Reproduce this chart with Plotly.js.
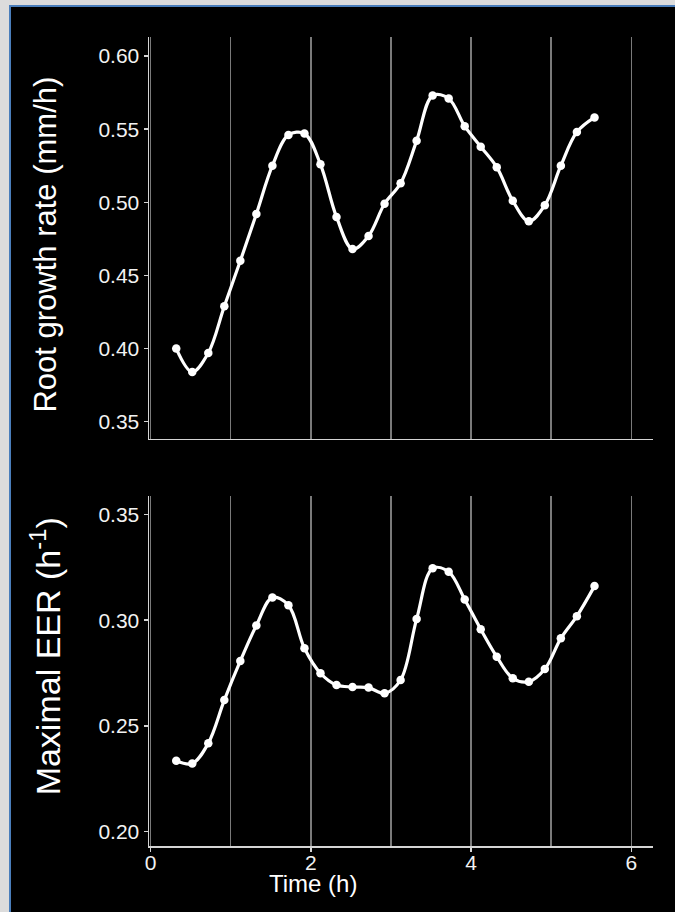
<!DOCTYPE html>
<html>
<head>
<meta charset="utf-8">
<script src="https://cdn.plot.ly/plotly-3.0.1.min.js"></script>
<style>
  html, body { margin:0; padding:0; background:#000; width:675px; height:912px; overflow:hidden; }
  #chart { position:absolute; left:0; top:0; width:675px; height:912px; }
  .frame { position:absolute; z-index:10; }
</style>
</head>
<body>
<div id="chart"></div>
<div class="frame" style="left:0;top:0;width:9px;height:912px;background:#dcdcdc;"></div>
<div class="frame" style="left:0;top:0;width:675px;height:5px;background:#dcdcdc;"></div>
<div class="frame" style="left:9px;top:5px;width:2px;height:907px;background:#4a7ebb;"></div>
<div class="frame" style="left:9px;top:5px;width:666px;height:2px;background:#4a7ebb;"></div>
<script>
// Time (h)
const timeH = [0.32, 0.52, 0.72, 0.92, 1.12, 1.32, 1.52, 1.72, 1.92, 2.12,
               2.32, 2.52, 2.72, 2.92, 3.12, 3.32, 3.52, 3.72, 3.92, 4.12,
               4.32, 4.52, 4.72, 4.92, 5.12, 5.32, 5.54];
// Root growth rate (mm/h)
const rootGrowthRate = [0.400, 0.384, 0.397, 0.429, 0.460, 0.492, 0.525, 0.546, 0.547, 0.526,
                        0.490, 0.468, 0.477, 0.499, 0.513, 0.542, 0.573, 0.571, 0.552, 0.538,
                        0.524, 0.501, 0.487, 0.498, 0.525, 0.548, 0.558];
// Maximal EER (h^-1)
const maximalEER = [0.2335, 0.2322, 0.2418, 0.2622, 0.2807, 0.2975, 0.3107, 0.3071, 0.2867, 0.2749,
                    0.2693, 0.2684, 0.2681, 0.2654, 0.2717, 0.3005, 0.3245, 0.3229, 0.3098, 0.2957,
                    0.2827, 0.2725, 0.2709, 0.2769, 0.2914, 0.3019, 0.3161];
const topYTicks = [0.35, 0.40, 0.45, 0.50, 0.55, 0.60];
const botYTicks = [0.20, 0.25, 0.30, 0.35];
const xTicks = [0, 2, 4, 6];

const FONT = 'Liberation Sans, Arial, Helvetica, sans-serif';
const AXIS = '#d4d4d4';
const GRID = '#7a7a7a';

const lineStyle = {color:'#ffffff', width:3.2, shape:'spline', smoothing:1};
const markerStyle = {color:'#ffffff', size:8.5};

const traces = [
  {x: timeH, y: rootGrowthRate, xaxis:'x', yaxis:'y', mode:'lines+markers',
   line: lineStyle, marker: markerStyle, hoverinfo:'skip'},
  {x: timeH, y: maximalEER, xaxis:'x2', yaxis:'y2', mode:'lines+markers',
   line: lineStyle, marker: markerStyle, hoverinfo:'skip'}
];

const xr = [-0.02, 6.27];
const layout = {
  width:675, height:912,
  paper_bgcolor:'#000', plot_bgcolor:'#000',
  showlegend:false,
  margin:{l:149, r:22, t:37, b:66},
  font:{family:FONT, color:'#f2f2f2', size:21},
  xaxis:{anchor:'y', domain:[0,1], range:xr, dtick:1, tick0:0,
         showticklabels:false, ticks:'', showgrid:true, gridcolor:GRID, gridwidth:1.5,
         zeroline:false, showline:true, linecolor:AXIS, linewidth:1.5},
  yaxis:{anchor:'x', domain:[0.5031, 1], range:[0.3382, 0.6130],
         tickvals: topYTicks, tickformat:'.2f', ticks:'outside', ticklen:4, tickwidth:1.5, tickcolor:AXIS,
         showgrid:false, zeroline:false, showline:true, linecolor:AXIS, linewidth:1.5,
         tickfont:{family:FONT, size:21, color:'#f2f2f2'}},
  xaxis2:{anchor:'y2', domain:[0,1], range:xr, tickvals:xTicks, ticktext:xTicks.map(String),
          ticks:'outside', ticklen:4, tickwidth:1.5, tickcolor:AXIS, ticklabelstandoff:-7,
          showgrid:true, gridcolor:GRID, gridwidth:1.5,
          minor:{dtick:1, tick0:0, showgrid:true, gridcolor:GRID, gridwidth:1.5, ticks:''},
          zeroline:false, showline:true, linecolor:AXIS, linewidth:1.5,
          tickfont:{family:FONT, size:21, color:'#f2f2f2'}},
  yaxis2:{anchor:'x2', domain:[0, 0.4326], range:[0.1932, 0.3587],
          tickvals: botYTicks, tickformat:'.2f', ticks:'outside', ticklen:4, tickwidth:1.5, tickcolor:AXIS,
          showgrid:false, zeroline:false, showline:true, linecolor:AXIS, linewidth:1.5,
          tickfont:{family:FONT, size:21, color:'#f2f2f2'}},
  annotations:[
    {text:'Root growth rate (mm/h)', xref:'paper', yref:'paper', x:-0.205, y:0.743,
     xanchor:'center', yanchor:'middle', textangle:-90, showarrow:false,
     font:{family:FONT, size:31, color:'#ffffff'}},
    {text:'Maximal EER (h<sup>-1</sup>)', xref:'paper', yref:'paper', x:-0.205, y:0.234,
     xanchor:'center', yanchor:'middle', textangle:-90, showarrow:false,
     font:{family:FONT, size:34, color:'#ffffff'}},
    {text:'Time (h)', xref:'paper', yref:'paper', x:0.325, y:-0.0465,
     xanchor:'center', yanchor:'middle', showarrow:false,
     font:{family:FONT, size:24, color:'#ffffff'}}
  ]
};

Plotly.newPlot('chart', traces, layout, {staticPlot:true, displayModeBar:false});
</script>
</body>
</html>
